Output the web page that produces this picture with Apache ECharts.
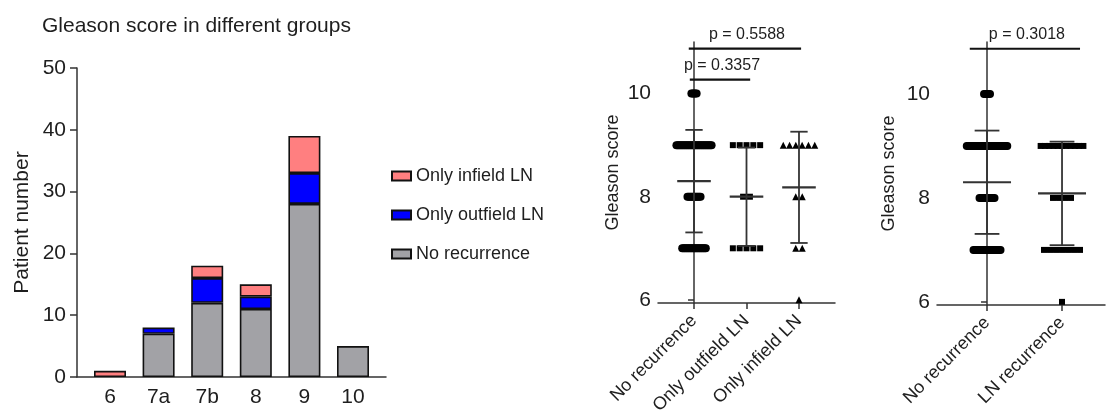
<!DOCTYPE html>
<html>
<head>
<meta charset="utf-8">
<script src="https://cdn.jsdelivr.net/npm/echarts@6/dist/echarts.min.js"></script>
<style>
  html, body { margin: 0; padding: 0; background: #fff; }
  #main { width: 1108px; height: 417px; }
</style>
</head>
<body>
<div id="main"></div>
<script>
// bar chart: patients per Gleason group
var groups = ['6', '7a', '7b', '8', '9', '10'];
var noRecurrence = [0, 7, 12, 11, 28, 5];
var onlyOutfield = [0, 1, 4, 2, 5, 0];
var onlyInfield = [1, 0, 2, 2, 6, 0];

// dot plots: patients per score level
var scoreLevels = [6, 7, 8, 9, 10];
var midNoRecurrence = [0, 19, 11, 28, 5];
var midOutfield = [0, 5, 2, 5, 0];
var midInfield = [1, 2, 2, 6, 0];
var rightNoRecurrence = [0, 19, 11, 28, 5];
var rightLnRecurrence = [1, 7, 4, 11, 0];
var midNames = ['No recurrence', 'Only outfield LN', 'Only infield LN'];
var rightNames = ['No recurrence', 'LN recurrence'];
var midP = ['p = 0.5588', 'p = 0.3357'];
var rightP = ['p = 0.3018'];
var yTicks = [6, 8, 10];

var FONT = 'Liberation Sans, Arial, sans-serif';
var INK = '#1e1e1e';
var AXIS = '#333';

var myChart = echarts.init(document.getElementById('main'));

// spread the dots of one column sideways, centred on the group
function dots(counts, gi, step, maxSpan) {
    var out = [];
    counts.forEach(function (n, k) {
        var s = n > 1 ? Math.min(step, maxSpan / (n - 1)) : 0;
        for (var i = 0; i < n; i++) {
            out.push([gi + (i - (n - 1) / 2) * s, scoreLevels[k]]);
        }
    });
    return out;
}

function stats(counts, gi) {
    var n = 0, sum = 0;
    counts.forEach(function (c, k) { n += c; sum += c * scoreLevels[k]; });
    var mean = sum / n, ss = 0;
    counts.forEach(function (c, k) { ss += c * Math.pow(scoreLevels[k] - mean, 2); });
    return [gi, mean, Math.sqrt(ss / (n - 1))];
}

function errorBars(ax, list) {
    return {
        type: 'custom',
        xAxisIndex: ax, yAxisIndex: ax,
        silent: true, clip: false, z: 5,
        data: list,
        renderItem: function (params, api) {
            var x = api.value(0), m = api.value(1), s = api.value(2);
            function seg(x1, y1, x2, y2, w) {
                var a = api.coord([x1, y1]), b = api.coord([x2, y2]);
                return { type: 'line', shape: { x1: a[0], y1: a[1], x2: b[0], y2: b[1] },
                    style: { stroke: AXIS, lineWidth: w || 1.8 } };
            }
            return { type: 'group', children: [
                seg(x - 0.32, m, x + 0.32, m, 2.2),
                seg(x, m - s, x, m + s),
                seg(x - 0.165, m + s, x + 0.165, m + s),
                seg(x - 0.165, m - s, x + 0.165, m - s)
            ] };
        }
    };
}

// p-value brackets: [x from, x to, y level]
function brackets(ax, list, texts) {
    return {
        type: 'custom',
        xAxisIndex: ax, yAxisIndex: ax,
        silent: true, clip: false, z: 6,
        data: list,
        renderItem: function (params, api) {
            var a = api.coord([api.value(0), api.value(2)]);
            var b = api.coord([api.value(1), api.value(2)]);
            return { type: 'group', children: [
                { type: 'line', shape: { x1: a[0], y1: a[1], x2: b[0], y2: b[1] },
                  style: { stroke: '#111', lineWidth: 2.2 } },
                { type: 'text', x: (a[0] + b[0]) / 2 + 2, y: a[1] - 14,
                  style: { text: texts[params.dataIndex], fill: INK, font: '16px ' + FONT,
                           align: 'center', verticalAlign: 'middle' } }
            ] };
        }
    };
}

function scatter(ax, data, symbol, size) {
    return {
        type: 'scatter', xAxisIndex: ax, yAxisIndex: ax, silent: true,
        symbol: symbol, symbolSize: size,
        itemStyle: { color: '#000', opacity: 1 },
        data: data, z: 3
    };
}

function dotXAxis(grid, min, max, names) {
    var idx = names.map(function (n, i) { return i; });
    return {
        type: 'value', gridIndex: grid, min: min, max: max,
        axisLine: { lineStyle: { color: AXIS, width: 1.5 } },
        axisTick: { length: 6, lineStyle: { color: AXIS, width: 1.5 }, customValues: idx },
        axisLabel: { rotate: 45, margin: 15, fontSize: 18, color: INK, fontFamily: FONT,
                     customValues: idx,
                     formatter: function (v) { return names[v]; } },
        splitLine: { show: false }
    };
}

function dotYAxis(grid, gap) {
    return {
        type: 'value', gridIndex: grid, min: 5.94, max: 11,
        name: 'Gleason score', nameLocation: 'middle', nameGap: gap,
        nameTextStyle: { fontSize: 18, color: INK, fontFamily: FONT },
        axisLine: { show: true, lineStyle: { color: AXIS, width: 1.5 } },
        axisTick: { show: true, length: 6, lineStyle: { color: AXIS, width: 1.5 }, customValues: yTicks },
        axisLabel: { margin: 7, fontSize: 21, color: INK, fontFamily: FONT, customValues: yTicks },
        splitLine: { show: false }
    };
}

function barSeries(name, color, vals) {
    return {
        name: name, type: 'bar', stack: 'n', barWidth: 32,
        xAxisIndex: 0, yAxisIndex: 0,
        itemStyle: { color: color, borderColor: '#111', borderWidth: 1.6 },
        // empty segments are left out so they draw no border line
        data: vals.map(function (v) { return v === 0 ? '-' : v; })
    };
}

var option = {
    animation: false,
    backgroundColor: '#fff',
    textStyle: { fontFamily: FONT },
    title: {
        text: 'Gleason score in different groups',
        left: 37, top: 11,
        textStyle: { fontSize: 21, fontWeight: 'normal', color: INK, fontFamily: FONT }
    },
    legend: {
        orient: 'vertical', left: 386, top: 162,
        itemWidth: 19, itemHeight: 9, itemGap: 21,
        icon: 'rect',
        data: ['Only infield LN', 'Only outfield LN', 'No recurrence'],
        textStyle: { fontSize: 18, color: INK, fontFamily: FONT }
    },
    grid: [
        { left: 85.7, top: 68, width: 291.6, height: 309 },   // bars
        { left: 658, top: 42, width: 177, height: 263 },
        { left: 937, top: 42, width: 168, height: 263 },
        { left: 77, top: 68, width: 309, height: 309 }        // bar chart frame
    ],
    xAxis: [
        {
            type: 'category', gridIndex: 0, data: groups,
            axisLine: { show: false },
            axisTick: { alignWithLabel: true, length: 6, lineStyle: { color: AXIS, width: 1.5 } },
            axisLabel: { margin: 10, fontSize: 21, color: INK, fontFamily: FONT },
            splitLine: { show: false }
        },
        dotXAxis(1, -0.686, 2.686, midNames),
        dotXAxis(2, -0.667, 1.573, rightNames),
        {
            type: 'value', gridIndex: 3, min: 0, max: 1,
            axisLine: { lineStyle: { color: AXIS, width: 1.5 } },
            axisTick: { show: false }, axisLabel: { show: false },
            splitLine: { show: false }
        }
    ],
    yAxis: [
        { type: 'value', gridIndex: 0, min: 0, max: 50, show: false },
        dotYAxis(1, 36),
        dotYAxis(2, 39),
        {
            type: 'value', gridIndex: 3, min: 0, max: 50, interval: 10,
            name: 'Patient number', nameLocation: 'middle', nameGap: 44,
            nameTextStyle: { fontSize: 21, color: INK, fontFamily: FONT },
            axisLine: { show: true, lineStyle: { color: AXIS, width: 1.5 } },
            axisTick: { show: true, length: 7, lineStyle: { color: AXIS, width: 1.5 } },
            axisLabel: { margin: 11, fontSize: 21, color: INK, fontFamily: FONT },
            splitLine: { show: false }
        }
    ],
    series: [
        barSeries('No recurrence', '#a2a2a6', noRecurrence),
        barSeries('Only outfield LN', '#0000ff', onlyOutfield),
        barSeries('Only infield LN', '#ff7f80', onlyInfield),

        scatter(1, dots(midNoRecurrence, 0, 0.025, 0.67), 'circle', 8),
        scatter(1, dots(midOutfield, 1, 0.13, 0.6), 'rect', 6),
        scatter(1, dots(midInfield, 2, 0.124, 0.6), 'triangle', 7),
        errorBars(1, [stats(midNoRecurrence, 0), stats(midOutfield, 1), stats(midInfield, 2)]),
        brackets(1, [[-0.1, 2.04, 10.87], [-0.08, 1.07, 10.27]], midP),

        scatter(2, dots(rightNoRecurrence, 0, 0.02, 0.55), 'circle', 8),
        scatter(2, dots(rightLnRecurrence, 1, 0.08, 0.57), 'rect', 6),
        errorBars(2, [stats(rightNoRecurrence, 0), stats(rightLnRecurrence, 1)]),
        brackets(2, [[-0.23, 1.24, 10.87]], rightP)
    ]
};
myChart.setOption(option);
window.addEventListener('resize', function () {
    myChart.resize();
});
</script>
</body>
</html>
